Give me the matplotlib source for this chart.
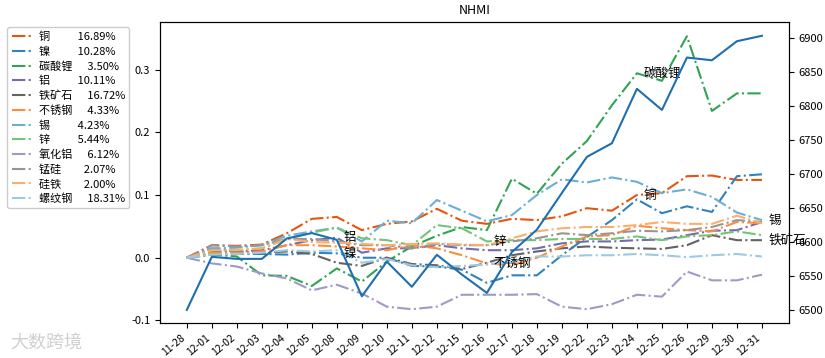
import matplotlib
matplotlib.use('Agg')
import matplotlib.pyplot as plt

plt.rcParams['font.family'] = ['Noto Sans CJK SC', 'DejaVu Sans']
plt.rcParams['axes.unicode_minus'] = False

dates = ['11-28', '12-01', '12-02', '12-03', '12-04', '12-05', '12-08', '12-09',
         '12-10', '12-11', '12-12', '12-15', '12-16', '12-17', '12-18', '12-19',
         '12-22', '12-23', '12-24', '12-25', '12-26', '12-29', '12-30', '12-31']

names = ['铜', '镍', '碳酸锂', '铝', '铁矿石', '不锈钢', '锡', '锌', '氧化铝', '锰硅', '硅铁', '螺纹钢']
weights = ['16.89%', '10.28%', '3.50%', '10.11%', '16.72%', '4.33%', '4.23%', '5.44%',
           '6.12%', '2.07%', '2.00%', '18.31%']
colors = ['#e6550d', '#3182bd', '#31a354', '#756bb1', '#636363', '#fd8d3c',
          '#6baed6', '#74c476', '#9e9ac8', '#969696', '#fdae6b', '#9ecae1']

tong = [0, 0.020, 0.019, 0.021, 0.039, 0.062, 0.065, 0.044, 0.054, 0.058, 0.078, 0.059,
        0.054, 0.062, 0.060, 0.066, 0.079, 0.075, 0.100, 0.103, 0.130, 0.131, 0.124, 0.124]
nie = [0, 0.005, 0.006, 0.006, 0.005, 0.008, 0.007, 0.0, 0.0, -0.013, -0.014, -0.019,
       -0.040, -0.028, -0.028, 0.004, 0.033, 0.060, 0.093, 0.071, 0.082, 0.073, 0.130, 0.133]
tansuanli = [0, 0.005, 0.002, -0.028, -0.029, -0.045, -0.017, -0.038, -0.006, 0.018, 0.035, 0.049,
             0.044, 0.126, 0.102, 0.150, 0.186, 0.243, 0.294, 0.282, 0.353, 0.234, 0.262, 0.262]
lv = [0, 0.015, 0.010, 0.012, 0.020, 0.028, 0.032, 0.008, 0.015, 0.015, 0.020, 0.015,
      0.012, 0.012, 0.015, 0.023, 0.026, 0.026, 0.028, 0.029, 0.036, 0.043, 0.044, 0.057]
tiekuangshi = [0, 0.010, 0.010, 0.008, 0.010, 0.006, -0.008, -0.013, 0.0, -0.010, -0.012, -0.018,
               -0.008, 0.004, 0.010, 0.015, 0.018, 0.016, 0.015, 0.014, 0.020, 0.036, 0.028, 0.028]
buxiugang = [0, 0.008, 0.008, 0.010, 0.020, 0.020, 0.018, 0.015, 0.012, 0.020, 0.015, 0.004,
             -0.009, -0.012, 0.0, 0.018, 0.034, 0.036, 0.051, 0.047, 0.044, 0.042, 0.057, 0.055]
xi = [0, 0.015, 0.016, 0.020, 0.035, 0.042, 0.048, 0.026, 0.059, 0.055, 0.092, 0.075,
      0.058, 0.068, 0.100, 0.125, 0.120, 0.128, 0.121, 0.103, 0.109, 0.097, 0.072, 0.060]
xin = [0, 0.012, 0.012, 0.015, 0.030, 0.040, 0.048, 0.031, 0.028, 0.020, 0.052, 0.047,
       0.026, 0.028, 0.028, 0.030, 0.030, 0.030, 0.034, 0.028, 0.034, 0.036, 0.042, 0.036]
yanghualv = [0, -0.009, -0.014, -0.025, -0.033, -0.052, -0.043, -0.057, -0.078, -0.082, -0.078, -0.059,
             -0.059, -0.059, -0.058, -0.078, -0.082, -0.074, -0.059, -0.062, -0.022, -0.036, -0.036, -0.027]
mengui = [0, 0.020, 0.018, 0.020, 0.030, 0.030, 0.026, 0.020, 0.020, 0.015, 0.022, 0.020,
          0.020, 0.026, 0.031, 0.039, 0.036, 0.039, 0.043, 0.042, 0.044, 0.049, 0.060, 0.057]
guitie = [0, 0.012, 0.012, 0.015, 0.030, 0.025, 0.024, 0.022, 0.020, 0.022, 0.023, 0.021,
          0.020, 0.031, 0.042, 0.047, 0.049, 0.049, 0.052, 0.057, 0.054, 0.054, 0.067, 0.055]
luowengang = [0, 0.005, 0.006, 0.008, 0.012, 0.010, 0.012, -0.008, -0.002, -0.012, -0.015, -0.013,
              -0.011, -0.006, 0.002, 0.002, 0.004, 0.004, 0.006, 0.004, 0.001, 0.004, 0.006, 0.002]

series = [tong, nie, tansuanli, lv, tiekuangshi, buxiugang, xi, xin, yanghualv, mengui, guitie, luowengang]

nhmi = [6500, 6578, 6575, 6575, 6605, 6613, 6603, 6520, 6571, 6534, 6581, 6552,
        6525, 6585, 6618, 6672, 6725, 6745, 6825, 6794, 6871, 6867, 6895, 6903]

# which series get a label on the chart, and at which date
notes = [('铝', '12-08'), ('镍', '12-08'), ('锌', '12-16'), ('不锈钢', '12-16'),
         ('碳酸锂', '12-24'), ('铜', '12-24'), ('锡', '12-31'), ('铁矿石', '12-31')]

fig = plt.figure(figsize=(8.25, 3.58), dpi=100)
ax = fig.add_axes([0.194, 0.099, 0.762, 0.840])

pads = {1: 11, 2: 9, 3: 6}
for name, w, c, s in zip(names, weights, colors, series):
    label = name + ' ' * pads[len(name)] + w
    ax.plot(dates, s, linestyle='-.', color=c, lw=1.5, label=label)

for name, d in notes:
    s = series[names.index(name)]
    v = s[dates.index(d)]
    ax.annotate(name, (dates.index(d), v), xytext=(5, 0), textcoords='offset points',
                va='center', ha='left', fontsize=9)

ax.set_ylim(-0.1033, 0.376)
ax.set_yticks([-0.1, 0.0, 0.1, 0.2, 0.3])
ax.set_yticklabels(['-0.1', '0.0', '0.1', '0.2', '0.3'])
ax.tick_params(axis='y', labelsize=8)
ax.tick_params(axis='x', labelsize=7.5)
plt.setp(ax.get_xticklabels(), rotation=40, ha='right')
ax.set_xlim(-1.07, 24.07)
ax.set_title('NHMI', fontsize=9)

ax2 = ax.twinx()
ax2.plot(dates, nhmi, color='#1f6fb0', lw=1.5)
ax2.set_ylim(6481.4, 6923.5)
ax2.set_yticks(range(6500, 6901, 50))
ax2.tick_params(axis='y', labelsize=8)

ax.legend(loc='upper left', bbox_to_anchor=(0.009, 0.924), bbox_transform=fig.transFigure,
          borderaxespad=0, fontsize=8, labelspacing=0.38, handlelength=1.8, handletextpad=0.6,
          framealpha=1)

fig.text(0.012, 0.03, '大数跨境', fontsize=13, color='#d0d0d0')

fig.savefig('out.png', dpi=100)
